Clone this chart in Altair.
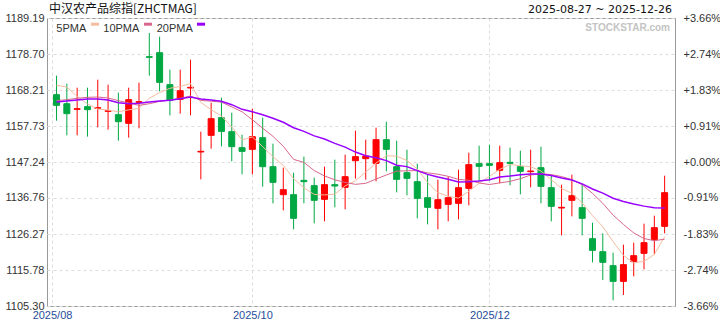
import altair as alt
import pandas as pd

title_text = "中汉农产品综指[ZHCTMAG]"
date_range = "2025-08-27 ~ 2025-12-26"
watermark = "STOCKSTAR.com"

opens = [1166.86, 1164.23, 1162.58, 1163.36, 1162.87, 1162.00, 1161.03, 1158.51, 1164.62, 1177.92,
         1179.09, 1169.77, 1165.50, 1168.80, 1150.16, 1155.01, 1160.16, 1156.08, 1151.42, 1150.93,
         1154.33, 1145.88, 1137.73, 1137.73, 1141.90, 1140.35, 1136.37, 1140.64, 1139.86, 1147.63,
         1148.21, 1146.85, 1153.75, 1145.88, 1144.14, 1141.51, 1136.85, 1133.75, 1134.91, 1135.20,
         1139.57, 1146.76, 1146.76, 1144.82, 1147.15, 1145.88, 1144.43, 1145.59, 1139.77, 1133.84,
         1136.08, 1133.94, 1124.91, 1121.12, 1117.05, 1112.48, 1118.21, 1120.64, 1124.62, 1128.50]
highs = [1172.39, 1170.06, 1168.89, 1168.89, 1171.22, 1169.77, 1167.44, 1168.89, 1170.35, 1184.82,
         1183.75, 1174.14, 1174.14, 1177.05, 1156.08, 1164.52, 1165.98, 1161.61, 1155.20, 1162.78,
         1160.16, 1152.58, 1145.59, 1144.14, 1148.80, 1142.68, 1145.88, 1147.92, 1149.38, 1156.37,
         1153.75, 1157.24, 1158.99, 1153.46, 1150.83, 1146.76, 1143.55, 1142.10, 1142.97, 1145.01,
         1149.96, 1152.00, 1152.29, 1152.00, 1151.42, 1150.54, 1150.83, 1151.71, 1143.26, 1140.64,
         1143.55, 1140.64, 1129.57, 1126.46, 1120.83, 1123.16, 1123.75, 1129.28, 1131.61, 1143.26]
lows = [1159.28, 1155.01, 1155.01, 1154.62, 1157.34, 1156.66, 1153.46, 1154.33, 1157.05, 1172.39,
        1167.83, 1160.84, 1161.32, 1160.84, 1142.19, 1151.13, 1151.81, 1147.44, 1143.65, 1143.65,
        1140.06, 1135.20, 1133.16, 1127.63, 1135.20, 1129.38, 1129.96, 1134.04, 1133.46, 1142.39,
        1142.10, 1141.61, 1144.52, 1138.41, 1137.53, 1130.83, 1129.09, 1127.63, 1129.96, 1130.54,
        1134.62, 1141.61, 1141.81, 1141.03, 1140.45, 1137.82, 1139.86, 1135.20, 1129.96, 1125.88,
        1131.42, 1125.88, 1118.02, 1112.87, 1106.95, 1108.50, 1113.94, 1115.98, 1120.35, 1126.46]
closes = [1163.75, 1161.32, 1162.78, 1162.49, 1163.07, 1162.19, 1158.99, 1165.40, 1164.82, 1177.73,
          1170.45, 1165.20, 1168.02, 1168.99, 1150.35, 1159.86, 1156.17, 1151.71, 1150.35, 1154.62,
          1145.88, 1141.32, 1139.18, 1130.83, 1141.51, 1136.08, 1140.64, 1140.25, 1142.97, 1148.80,
          1148.99, 1153.75, 1150.93, 1142.19, 1142.48, 1136.66, 1134.04, 1136.27, 1136.85, 1139.77,
          1146.47, 1145.98, 1146.27, 1147.05, 1146.85, 1144.52, 1144.62, 1140.15, 1134.33, 1134.04,
          1137.44, 1130.83, 1121.51, 1118.02, 1112.48, 1117.34, 1119.96, 1123.75, 1128.12, 1138.31]

ma5 = [1169.57, 1169.09, 1166.37, 1164.14, 1162.68, 1162.37, 1161.90, 1162.43, 1162.89, 1165.83,
       1167.48, 1168.72, 1169.24, 1170.08, 1164.60, 1162.49, 1160.68, 1157.42, 1153.69, 1154.54,
       1151.75, 1148.78, 1146.27, 1142.37, 1139.75, 1137.79, 1137.65, 1137.86, 1140.29, 1141.75,
       1144.33, 1146.95, 1149.09, 1148.93, 1147.67, 1145.20, 1141.26, 1138.33, 1137.26, 1136.72,
       1138.68, 1141.07, 1143.07, 1145.11, 1146.52, 1146.14, 1145.86, 1144.64, 1142.10, 1139.53,
       1138.12, 1135.36, 1131.63, 1128.37, 1124.06, 1120.04, 1117.86, 1118.31, 1120.33, 1125.49]
ma10 = [1165.11, 1165.40, 1165.79, 1166.08, 1166.18, 1165.88, 1165.11, 1164.43, 1163.75, 1164.22,
        1164.89, 1165.28, 1165.82, 1166.46, 1165.19, 1164.96, 1164.68, 1163.31, 1161.87, 1159.55,
        1157.10, 1154.71, 1151.83, 1148.01, 1147.13, 1144.75, 1143.19, 1142.05, 1141.31, 1140.73,
        1141.04, 1142.28, 1143.46, 1144.59, 1144.69, 1144.75, 1144.09, 1143.69, 1143.08, 1142.17,
        1141.92, 1141.14, 1140.68, 1141.16, 1141.60, 1142.39, 1143.45, 1143.83, 1143.58, 1143.01,
        1142.11, 1140.59, 1138.12, 1135.21, 1131.78, 1129.06, 1126.59, 1124.95, 1124.33, 1124.76]
ma20 = [1164.72, 1165.01, 1165.30, 1165.59, 1165.59, 1165.30, 1164.52, 1164.23, 1164.33, 1164.72,
        1165.01, 1165.20, 1165.69, 1166.18, 1165.59, 1165.30, 1164.91, 1163.94, 1162.58, 1161.88,
        1161.00, 1160.00, 1158.82, 1157.23, 1156.16, 1154.85, 1153.93, 1152.67, 1151.58, 1150.14,
        1149.06, 1148.49, 1147.64, 1146.30, 1145.90, 1144.74, 1143.64, 1142.86, 1142.19, 1141.45,
        1141.48, 1141.71, 1142.06, 1142.87, 1143.14, 1143.56, 1143.76, 1143.76, 1143.32, 1142.59,
        1142.01, 1140.86, 1139.39, 1138.18, 1136.68, 1135.72, 1135.01, 1134.39, 1133.95, 1133.88]

y_ticks = [1105.30, 1115.78, 1126.27, 1136.76, 1147.24, 1157.73, 1168.21, 1178.70, 1189.19]
pct_labels = ["-3.66%", "-2.74%", "-1.83%", "-0.91%", "+0.00%", "+0.91%", "+1.83%", "+2.74%", "+3.66%"]
month_ticks = [-0.44, 19, 42]
month_labels = ["2025/08", "2025/10", "2025/12"]
ma_names = ["5PMA", "10PMA", "20PMA"]
ma_fields = ["ma5", "ma10", "ma20"]
ma_colors = ["#F5BDA0", "#D8668D", "#9900FF"]

RED = "#FF0000"
GREEN = "#00A843"
FONT = "Liberation Sans"

df = pd.DataFrame({
    "i": list(range(len(opens))),
    "open": opens, "high": highs, "low": lows, "close": closes,
    "ma5": ma5, "ma10": ma10, "ma20": ma20,
})

W, H = 628, 288
y_scale = alt.Scale(domain=[y_ticks[0], y_ticks[-1]], nice=False, zero=False)
x_scale = alt.Scale(domain=[-0.44, 59.52], nice=False, zero=False)


def js_lookup(labels, values):
    arr_l = "[" + ",".join("'" + s + "'" for s in labels) + "]"
    arr_v = "[" + ",".join(repr(v) for v in values) + "]"
    return arr_l + "[indexof(" + arr_v + ", datum.value)]"


x_axis = alt.Axis(values=month_ticks, labelExpr=js_lookup(month_labels, month_ticks),
                  grid=True, gridDash=[3, 3], gridColor="#dcdcdc", ticks=False, domain=False,
                  labelColor="#1F4E9A", labelFontSize=11, labelFont=FONT, labelPadding=3,
                  labelFlush=True, title=None)
x_enc = alt.X("i:Q", scale=x_scale, axis=x_axis)

y_axis_left = alt.Axis(values=y_ticks, format=".2f", grid=True, gridDash=[3, 3],
                       gridColor="#dcdcdc", ticks=False, domain=False, labelColor="#333333",
                       labelFontSize=11, labelFont=FONT, labelPadding=3, title=None, orient="left")
y_axis_right = alt.Axis(values=y_ticks, labelExpr=js_lookup(pct_labels, y_ticks), grid=False,
                        ticks=False, domain=False, labelColor="#333333", labelFontSize=11,
                        labelFont=FONT, labelPadding=8, title=None, orient="right")

up_color = alt.when(alt.datum.close > alt.datum.open).then(alt.value(RED)).otherwise(alt.value(GREEN))

base = alt.Chart(df)
wick = base.mark_rule(strokeWidth=1).encode(
    x=x_enc, y=alt.Y("low:Q", scale=y_scale, axis=y_axis_left), y2="high:Q", color=up_color)
body = base.mark_bar(size=6, strokeWidth=1).encode(
    x=x_enc, y=alt.Y("open:Q", scale=y_scale, axis=y_axis_left), y2="close:Q",
    color=up_color, stroke=up_color)

lines = []
for f, c, w in zip(ma_fields, ma_colors, [1, 1, 1.5]):
    lines.append(base.mark_line(color=c, strokeWidth=w).encode(
        x=x_enc, y=alt.Y(f + ":Q", scale=y_scale, axis=y_axis_left)))

one = pd.DataFrame({"k": [0]})
texts = [
    alt.Chart(one).mark_text(align="left", baseline="alphabetic", fontSize=12, color="#111111",
                             font="Noto Sans CJK SC").encode(
        x=alt.value(2), y=alt.value(-5.5), text=alt.value(title_text)),
    alt.Chart(one).mark_text(align="right", baseline="alphabetic", fontSize=11, color="#111111",
                             font="DejaVu Sans").encode(
        x=alt.value(625), y=alt.value(-5.5), text=alt.value(date_range)),
    alt.Chart(one).mark_text(align="right", baseline="middle", fontSize=10, fontWeight="bold",
                             color="#C4C4C4", font=FONT).encode(
        x=alt.value(623), y=alt.value(9.5), text=alt.value(watermark)),
]

legend_text_x = [9.3, 56.3, 109.7]
legend_sw_x = [44, 97, 150]
for name, color, tx, sx in zip(ma_names, ma_colors, legend_text_x, legend_sw_x):
    texts.append(alt.Chart(one).mark_text(align="left", baseline="alphabetic", fontSize=11,
                                          color="#333333", font=FONT).encode(
        x=alt.value(tx), y=alt.value(13.5), text=alt.value(name)))
    texts.append(alt.Chart(one).mark_rect(color=color).encode(
        x=alt.value(sx), x2=alt.value(sx + 8), y=alt.value(4.7), y2=alt.value(7.7)))

left = alt.layer(wick, body, *lines, *texts)
right = base.mark_line(opacity=0).encode(
    x=x_enc, y=alt.Y("close:Q", scale=y_scale, axis=y_axis_right))

chart = alt.layer(left, right).resolve_scale(y="independent").properties(
    width=W, height=H,
    autosize=alt.AutoSizeParams(type="none"),
    padding={"left": 47, "top": 18, "right": 45, "bottom": 14},
    background="white",
).configure_view(stroke="#999999", strokeWidth=1)

chart.save("out.html", embed_options={"renderer": "svg", "actions": False})
